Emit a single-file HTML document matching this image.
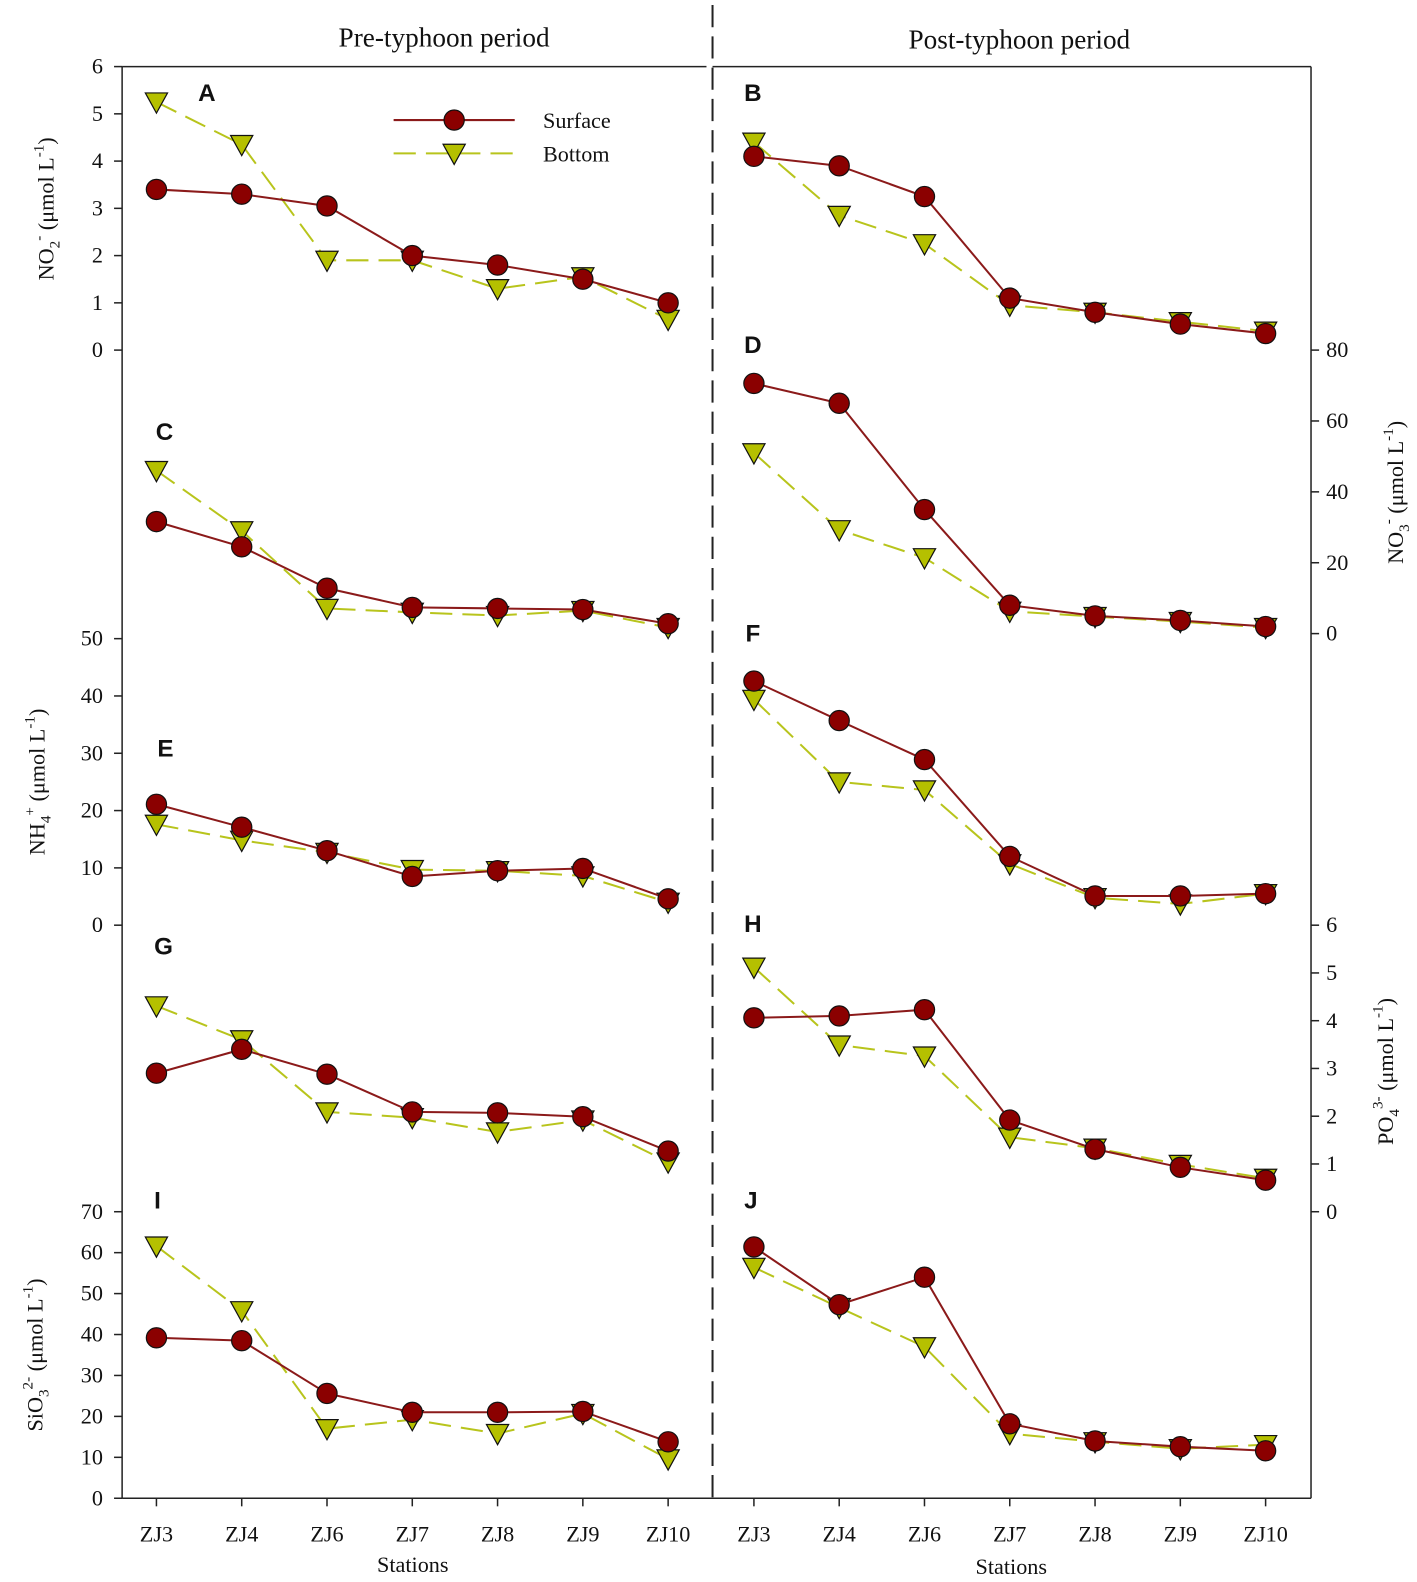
<!DOCTYPE html>
<html><head><meta charset="utf-8"><style>
html,body{margin:0;padding:0;background:#fff;}
svg{display:block;}
text{font-family:"Liberation Serif",serif;fill:#111;}
.lt{font-family:"Liberation Sans",sans-serif;font-weight:bold;font-size:24px;}
</style></head><body>
<svg id="chart" width="1417" height="1582" viewBox="0 0 1404 1568" preserveAspectRatio="none" xmlns="http://www.w3.org/2000/svg">
<g id="frame">
<line x1="121" y1="66" x2="700" y2="66" stroke="#222" stroke-width="1.5"/>
<line x1="706" y1="66" x2="1299" y2="66" stroke="#222" stroke-width="1.5"/>
<line x1="121" y1="66" x2="121" y2="1485" stroke="#222" stroke-width="1.5"/>
<line x1="1299" y1="66" x2="1299" y2="1485" stroke="#222" stroke-width="1.5"/>
<line x1="121" y1="1485" x2="1299" y2="1485" stroke="#222" stroke-width="1.5"/>
<line x1="706" y1="5" x2="706" y2="1485" stroke="#222" stroke-width="2" stroke-dasharray="22,9"/>
</g>
<text x="440" y="46" font-size="27" text-anchor="middle">Pre-typhoon period</text>
<text x="1010" y="48" font-size="27" text-anchor="middle">Post-typhoon period</text>
<text x="409" y="1558" font-size="22" text-anchor="middle">Stations</text>
<text x="1002" y="1560" font-size="22" text-anchor="middle">Stations</text>
<text transform="translate(53,207) rotate(-90)" font-size="22" text-anchor="middle">NO<tspan font-size="15" dy="6">2</tspan><tspan font-size="15" dy="-16">-</tspan><tspan dy="10"> (μmol L</tspan><tspan font-size="15" dy="-10">-1</tspan><tspan dy="10">)</tspan></text>
<text transform="translate(44,775) rotate(-90)" font-size="22" text-anchor="middle">NH<tspan font-size="15" dy="6">4</tspan><tspan font-size="15" dy="-16">+</tspan><tspan dy="10"> (μmol L</tspan><tspan font-size="15" dy="-10">-1</tspan><tspan dy="10">)</tspan></text>
<text transform="translate(42,1343) rotate(-90)" font-size="22" text-anchor="middle">SiO<tspan font-size="15" dy="6">3</tspan><tspan font-size="15" dy="-16">2-</tspan><tspan dy="10"> (μmol L</tspan><tspan font-size="15" dy="-10">-1</tspan><tspan dy="10">)</tspan></text>
<text transform="translate(1390,488) rotate(-90)" font-size="22" text-anchor="middle">NO<tspan font-size="15" dy="6">3</tspan><tspan font-size="15" dy="-16">-</tspan><tspan dy="10"> (μmol L</tspan><tspan font-size="15" dy="-10">-1</tspan><tspan dy="10">)</tspan></text>
<text transform="translate(1380,1062) rotate(-90)" font-size="22" text-anchor="middle">PO<tspan font-size="15" dy="6">4</tspan><tspan font-size="15" dy="-16">3-</tspan><tspan dy="10"> (μmol L</tspan><tspan font-size="15" dy="-10">-1</tspan><tspan dy="10">)</tspan></text>
<g id="legend">
<line x1="390" y1="119" x2="510" y2="119" stroke="#8b1a1a" stroke-width="2"/>
<circle cx="450" cy="119" r="10" fill="#8b0000" stroke="#111" stroke-width="1.2"/>
<text x="538" y="127" font-size="22">Surface</text>
<line x1="390" y1="152" x2="510" y2="152" stroke="#b8c41c" stroke-width="2" stroke-dasharray="22,10"/>
<polygon points="439,143 461,143 450,163" fill="#b5c000" stroke="#111" stroke-width="1.2"/>
<text x="538" y="160" font-size="22">Bottom</text>
</g>
<g id="plots"></g>
</svg>
<script>
const stations = ["ZJ3","ZJ4","ZJ6","ZJ7","ZJ8","ZJ9","ZJ10"];
const aSurface = [3.4,3.3,3.05,2.0,1.8,1.5,1.0];
const aBottom = [5.25,4.35,1.9,1.9,1.3,1.55,0.65];
const bSurface = [4.1,3.9,3.25,1.1,0.8,0.55,0.35];
const bBottom = [4.4,2.85,2.25,0.95,0.8,0.6,0.4];
const cSurface = [31.6,24.5,12.8,7.4,7.1,6.8,2.8];
const cBottom = [46,29,7.1,6,5.1,6.5,1.7];
const dSurface = [70.6,65,35,8,5,3.7,2];
const dBottom = [51,29.3,21.4,6.3,4.8,3.4,1.7];
const eSurface = [21.1,17.1,13,8.5,9.5,9.9,4.6];
const eBottom = [17.6,14.8,12.7,9.7,9.5,8.6,4.0];
const fSurface = [42.6,35.7,28.9,12,5.1,5.1,5.5];
const fBottom = [39.4,25,23.6,10.7,4.8,3.7,5.5];
const gSurface = [2.9,3.4,2.88,2.09,2.07,1.99,1.27];
const gBottom = [4.31,3.6,2.09,1.97,1.67,1.92,1.04];
const hSurface = [4.06,4.1,4.23,1.92,1.31,0.93,0.66];
const hBottom = [5.12,3.49,3.26,1.56,1.33,0.99,0.7];
const iSurface = [39.2,38.5,25.6,21,21,21.2,13.8];
const iBottom = [61.6,45.8,17,19.2,15.8,20.7,9.6];
const jSurface = [61.4,47.3,54,18.2,14,12.6,11.6];
const jBottom = [56.4,46.6,37,15.8,13.8,12.1,13.1];
const no2Ticks = [0,1,2,3,4,5,6];
const no3Ticks = [0,20,40,60,80];
const nh4Ticks = [0,10,20,30,40,50];
const po4Ticks = [0,1,2,3,4,5,6];
const sio3Ticks = [0,10,20,30,40,50,60,70];

const NS="http://www.w3.org/2000/svg";
const root=document.getElementById('plots');
function mk(tag,attrs,parent){const e=document.createElementNS(NS,tag);for(const k in attrs)e.setAttribute(k,attrs[k]);(parent||root).appendChild(e);return e;}
function xLeft(i){return 155+i*84.5;}
function xRight(i){return 747+i*84.5;}
function scale(zeroY,topY,maxV){return v=>zeroY-(v/maxV)*(zeroY-topY);}
const yNO2=scale(347,66,6), yNO3=scale(628,347,80), yNH4=scale(917,633,50), yPO4=scale(1201,917,6), ySiO3=scale(1485,1201,70);

function series(vals,xf,yf,kind,name){
  const g=mk('g',{});
  
  
  const pts=vals.map((v,i)=>xf(i)+','+yf(v)).join(' ');
  const pl=mk('polyline',{points:pts,fill:'none',stroke:kind==='s'?'#8b1a1a':'#b8c41c','stroke-width':2,'stroke-dasharray':kind==='s'?'none':'22,10'},g);
  
  
  vals.forEach((v,i)=>{
    const x=xf(i),y=yf(v);let m;
    if(kind==='s'){m=mk('circle',{cx:x,cy:y,r:10,fill:'#8b0000',stroke:'#111','stroke-width':1.2},g);}
    else{m=mk('polygon',{points:(x-11)+','+(y-9)+' '+(x+11)+','+(y-9)+' '+x+','+(y+11),fill:'#b5c000',stroke:'#111','stroke-width':1.2},g);}
    
    
  });
  return g;
}
const panels=[
 ['a',aSurface,aBottom,xLeft,yNO2],['b',bSurface,bBottom,xRight,yNO2],
 ['c',cSurface,cBottom,xLeft,yNO3],['d',dSurface,dBottom,xRight,yNO3],
 ['e',eSurface,eBottom,xLeft,yNH4],['f',fSurface,fBottom,xRight,yNH4],
 ['g',gSurface,gBottom,xLeft,yPO4],['h',hSurface,hBottom,xRight,yPO4],
 ['i',iSurface,iBottom,xLeft,ySiO3],['j',jSurface,jBottom,xRight,ySiO3]];
panels.forEach(p=>{series(p[2],p[3],p[4],'b','panel-'+p[0]+'-bottom');series(p[1],p[3],p[4],'s','panel-'+p[0]+'-surface');});

const letters=[['A',205,100],['B',746,100],['C',163,436],['D',746,350],['E',164,750],['F',746,636],['G',162,946],['H',746,924],['I',156,1198],['J',744,1198]];
letters.forEach(l=>{const t=mk('text',{x:l[1],y:l[2],class:'lt','text-anchor':'middle'});t.textContent=l[0];
  
  });

function yAxis(ticks,yf,side,name){
  const g=mk('g',{});
  
  
  ticks.forEach(v=>{const y=yf(v);
    if(side==='l'){mk('line',{x1:113,y1:y,x2:121,y2:y,stroke:'#222','stroke-width':1.5},g);
      const t=mk('text',{x:102,y:y+7,'font-size':22,'text-anchor':'end'},g);t.textContent=v;}
    else{mk('line',{x1:1299,y1:y,x2:1307,y2:y,stroke:'#222','stroke-width':1.5},g);
      const t=mk('text',{x:1314,y:y+7,'font-size':22,'text-anchor':'start'},g);t.textContent=v;}
  });
}
yAxis(no2Ticks,yNO2,'l','y-axis-no2');
yAxis(nh4Ticks,yNH4,'l','y-axis-nh4');
yAxis(sio3Ticks,ySiO3,'l','y-axis-sio3');
yAxis(no3Ticks,yNO3,'r','y-axis-no3');
yAxis(po4Ticks,yPO4,'r','y-axis-po4');

const xg=mk('g',{});


stations.forEach((s,i)=>{[xLeft(i),xRight(i)].forEach(x=>{
  mk('line',{x1:x,y1:1485,x2:x,y2:1493,stroke:'#222','stroke-width':1.5},xg);
  const t=mk('text',{x:x,y:1528,'font-size':22,'text-anchor':'middle'},xg);t.textContent=s;});});
</script>
</body></html>
